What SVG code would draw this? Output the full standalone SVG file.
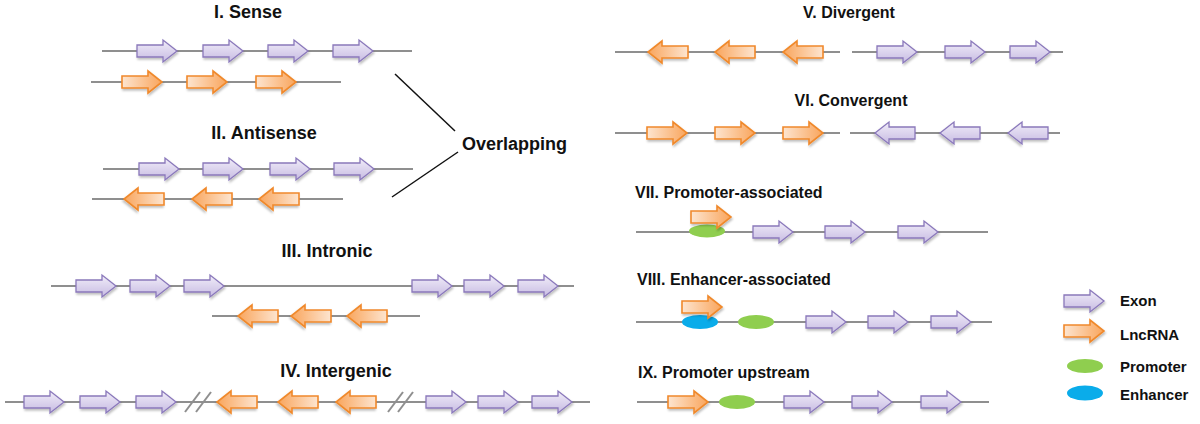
<svg xmlns="http://www.w3.org/2000/svg" xmlns:xlink="http://www.w3.org/1999/xlink" width="1200" height="424" viewBox="0 0 1200 424">
<style>
text{font-family:"Liberation Sans",Arial,sans-serif;font-weight:bold;fill:#111}
.t18{font-size:18px}
.t16{font-size:16px}
.t15{font-size:15px}
.dna{stroke:#8f8f8f;stroke-width:2;fill:none}
.brk{stroke:#8f8f8f;stroke-width:2}
.ex{fill:url(#gp);stroke:#8a78bb;stroke-width:1.3;filter:url(#sh)}
.lnc{fill:url(#go);stroke:#f0892c;stroke-width:1.6;filter:url(#sh)}
.pro{fill:#8fce4f}
.enh{fill:#0aacea}
.ov{stroke:#111;stroke-width:1.5}
</style>
<defs>
<linearGradient id="gp" x1="0" y1="0" x2="0" y2="1">
<stop offset="0" stop-color="#f1edf9"/>
<stop offset="1" stop-color="#c7bbe2"/>
</linearGradient>
<linearGradient id="go" x1="0" y1="0" x2="1" y2="0">
<stop offset="0" stop-color="#fde5d0"/>
<stop offset="1" stop-color="#f9a55c"/>
</linearGradient>
<filter id="sh" x="-20%" y="-30%" width="150%" height="180%">
<feDropShadow dx="1" dy="2" stdDeviation="1.2" flood-color="#000" flood-opacity="0.25"/>
</filter>
<path id="ar" d="M-20,-6 H6 V-11 L20,0 L6,11 V6 H-20 Z"/>
</defs>

<g id="connectors">
<line class="ov" x1="395" y1="74" x2="455" y2="131"/>
<line class="ov" x1="458" y1="152" x2="392" y2="197"/>
</g>

<g id="sense">
<text class="t18" x="248" y="18" text-anchor="middle">I. Sense</text>
<line class="dna" x1="102" y1="51" x2="412" y2="51"/>
<use href="#ar" class="ex" transform="translate(157,51)"/>
<use href="#ar" class="ex" transform="translate(223,51)"/>
<use href="#ar" class="ex" transform="translate(288,51)"/>
<use href="#ar" class="ex" transform="translate(353,51)"/>
<line class="dna" x1="91" y1="82" x2="341" y2="82"/>
<use href="#ar" class="lnc" transform="translate(142,82)"/>
<use href="#ar" class="lnc" transform="translate(207,82)"/>
<use href="#ar" class="lnc" transform="translate(276,82)"/>
</g>

<g id="antisense">
<text class="t18" x="264" y="139" text-anchor="middle">II. Antisense</text>
<line class="dna" x1="103" y1="169" x2="413" y2="169"/>
<use href="#ar" class="ex" transform="translate(159,169)"/>
<use href="#ar" class="ex" transform="translate(223,169)"/>
<use href="#ar" class="ex" transform="translate(290,169)"/>
<use href="#ar" class="ex" transform="translate(354,169)"/>
<line class="dna" x1="92" y1="199" x2="343" y2="199"/>
<use href="#ar" class="lnc" transform="translate(144,199) scale(-1,1)"/>
<use href="#ar" class="lnc" transform="translate(212,199) scale(-1,1)"/>
<use href="#ar" class="lnc" transform="translate(279,199) scale(-1,1)"/>
</g>

<g id="overlapping">
<text class="t18" x="462" y="150">Overlapping</text>
</g>

<g id="intronic">
<text class="t18" x="327" y="257" text-anchor="middle">III. Intronic</text>
<line class="dna" x1="51" y1="286" x2="574" y2="286"/>
<use href="#ar" class="ex" transform="translate(96,286)"/>
<use href="#ar" class="ex" transform="translate(150,286)"/>
<use href="#ar" class="ex" transform="translate(204,286)"/>
<use href="#ar" class="ex" transform="translate(432,286)"/>
<use href="#ar" class="ex" transform="translate(484,286)"/>
<use href="#ar" class="ex" transform="translate(538,286)"/>
<line class="dna" x1="212" y1="316" x2="420" y2="316"/>
<use href="#ar" class="lnc" transform="translate(258,316) scale(-1,1)"/>
<use href="#ar" class="lnc" transform="translate(311,316) scale(-1,1)"/>
<use href="#ar" class="lnc" transform="translate(367,316) scale(-1,1)"/>
</g>

<g id="intergenic">
<text class="t18" x="336" y="377" text-anchor="middle">IV. Intergenic</text>
<line class="dna" x1="5" y1="402" x2="590" y2="402"/>
<line class="brk" x1="185" y1="412" x2="200" y2="392"/>
<line class="brk" x1="196" y1="412" x2="211" y2="392"/>
<line class="brk" x1="388" y1="412" x2="403" y2="392"/>
<line class="brk" x1="398" y1="412" x2="413" y2="392"/>
<use href="#ar" class="ex" transform="translate(44,402)"/>
<use href="#ar" class="ex" transform="translate(100,402)"/>
<use href="#ar" class="ex" transform="translate(156,402)"/>
<use href="#ar" class="lnc" transform="translate(237,402) scale(-1,1)"/>
<use href="#ar" class="lnc" transform="translate(298,402) scale(-1,1)"/>
<use href="#ar" class="lnc" transform="translate(356,402) scale(-1,1)"/>
<use href="#ar" class="ex" transform="translate(446,402)"/>
<use href="#ar" class="ex" transform="translate(498,402)"/>
<use href="#ar" class="ex" transform="translate(552,402)"/>
</g>

<g id="divergent">
<text class="t16" x="849" y="18" text-anchor="middle">V. Divergent</text>
<line class="dna" x1="615" y1="52" x2="840" y2="52"/>
<use href="#ar" class="lnc" transform="translate(668,52) scale(-1,1)"/>
<use href="#ar" class="lnc" transform="translate(735,52) scale(-1,1)"/>
<use href="#ar" class="lnc" transform="translate(803,52) scale(-1,1)"/>
<line class="dna" x1="852" y1="52" x2="1063" y2="52"/>
<use href="#ar" class="ex" transform="translate(897,52)"/>
<use href="#ar" class="ex" transform="translate(965,52)"/>
<use href="#ar" class="ex" transform="translate(1030,52)"/>
</g>

<g id="convergent">
<text class="t16" x="851" y="106" text-anchor="middle">VI. Convergent</text>
<line class="dna" x1="615" y1="133" x2="840" y2="133"/>
<use href="#ar" class="lnc" transform="translate(667,133)"/>
<use href="#ar" class="lnc" transform="translate(735,133)"/>
<use href="#ar" class="lnc" transform="translate(803,133)"/>
<line class="dna" x1="850" y1="133" x2="1060" y2="133"/>
<use href="#ar" class="ex" transform="translate(895,133) scale(-1,1)"/>
<use href="#ar" class="ex" transform="translate(960,133) scale(-1,1)"/>
<use href="#ar" class="ex" transform="translate(1028,133) scale(-1,1)"/>
</g>

<g id="promoter-associated">
<text class="t16" x="635" y="198">VII. Promoter-associated</text>
<line class="dna" x1="636" y1="232" x2="988" y2="232"/>
<ellipse class="pro" cx="707" cy="231" rx="18" ry="6.5"/>
<use href="#ar" class="lnc" transform="translate(711,217)"/>
<use href="#ar" class="ex" transform="translate(773,232)"/>
<use href="#ar" class="ex" transform="translate(845,232)"/>
<use href="#ar" class="ex" transform="translate(918,232)"/>
</g>

<g id="enhancer-associated">
<text class="t16" x="637" y="285">VIII. Enhancer-associated</text>
<line class="dna" x1="636" y1="322" x2="992" y2="322"/>
<ellipse class="enh" cx="700" cy="322" rx="18" ry="7"/>
<ellipse class="pro" cx="756" cy="322" rx="18" ry="7"/>
<use href="#ar" class="lnc" transform="translate(702,307)"/>
<use href="#ar" class="ex" transform="translate(826,322)"/>
<use href="#ar" class="ex" transform="translate(888,322)"/>
<use href="#ar" class="ex" transform="translate(951,322)"/>
</g>

<g id="promoter-upstream">
<text class="t16" x="638" y="378">IX. Promoter upstream</text>
<line class="dna" x1="637" y1="402" x2="989" y2="402"/>
<use href="#ar" class="lnc" transform="translate(688,402)"/>
<ellipse class="pro" cx="737" cy="402" rx="18" ry="7"/>
<use href="#ar" class="ex" transform="translate(804,402)"/>
<use href="#ar" class="ex" transform="translate(872,402)"/>
<use href="#ar" class="ex" transform="translate(941,402)"/>
</g>

<g id="legend">
<use href="#ar" class="ex" transform="translate(1084,301)"/>
<text class="t15" x="1120" y="306">Exon</text>
<use href="#ar" class="lnc" transform="translate(1084,331)"/>
<text class="t15" x="1120" y="340">LncRNA</text>
<ellipse class="pro" cx="1085" cy="366" rx="18" ry="7"/>
<text class="t15" x="1120" y="372">Promoter</text>
<ellipse class="enh" cx="1085" cy="393" rx="18" ry="7.5"/>
<text class="t15" x="1120" y="400">Enhancer</text>
</g>
</svg>
